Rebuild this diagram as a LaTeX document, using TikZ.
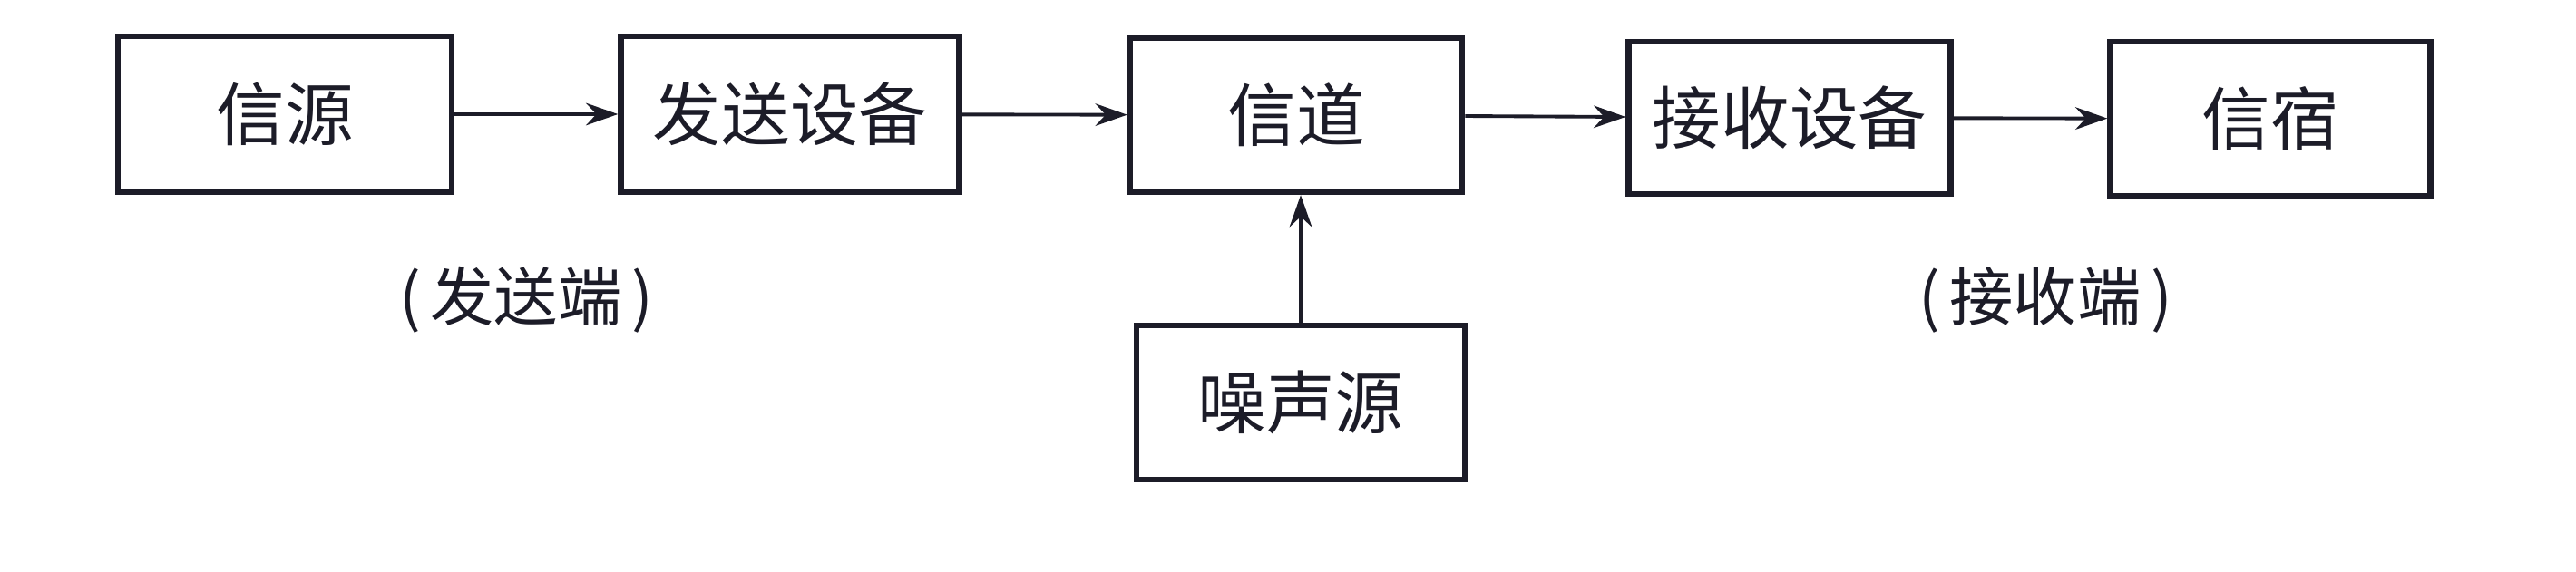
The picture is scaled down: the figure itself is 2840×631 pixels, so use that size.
\documentclass[tikz,border=0pt]{standalone}
\usepackage{fontspec}
\newfontfamily\cjk{Noto Sans CJK SC}
\usetikzlibrary{arrows.meta}
\definecolor{ink}{HTML}{1C1C28}
\tikzset{
  blk/.style={draw=ink, line width=1.8pt, minimum width=#1, inner sep=0pt, text=ink,
              font=\cjk\fontsize{21.5}{25}\selectfont},
  blk/.default=3.65cm,
  conn/.style={draw=ink, line width=1.1pt, -{Stealth[length=10pt,width=7pt]}},
  side/.style={text=ink, font=\cjk\fontsize{20}{24}\selectfont, inner sep=0pt}
}
\begin{document}
\begin{tikzpicture}[x=0.01cm,y=-0.01cm]
\useasboundingbox (0,0) rectangle (2840,631);
\fill[white] (0,0) rectangle (2840,631);
\node[blk=3.68cm, minimum height=1.72cm] (src) at (314,126) {信源};
\node[blk=3.73cm, minimum height=1.72cm] (tx) at (871,126) {发送设备};
\node[blk=3.66cm, minimum height=1.70cm] (ch) at (1429,127) {信道};
\node[blk=3.55cm, minimum height=1.68cm] (rx) at (1973,130) {接收设备};
\node[blk=3.53cm, minimum height=1.70cm] (dst) at (2503,131) {信宿};
\node[blk=3.62cm, minimum height=1.70cm] (noise) at (1434,444) {噪声源};
\node[side] (txend) at (580,331) {(\hspace{3pt}发送端\hspace{3pt})};
\node[side] (rxend) at (2255,331) {(\hspace{3pt}接收端\hspace{3pt})};
\draw[conn] (src) -- (tx);
\draw[conn] (tx) -- (ch);
\draw[conn] (ch) -- (rx);
\draw[conn] (rx) -- (dst);
\draw[conn] (noise.north) -- (noise.north |- ch.south);
\end{tikzpicture}
\end{document}
